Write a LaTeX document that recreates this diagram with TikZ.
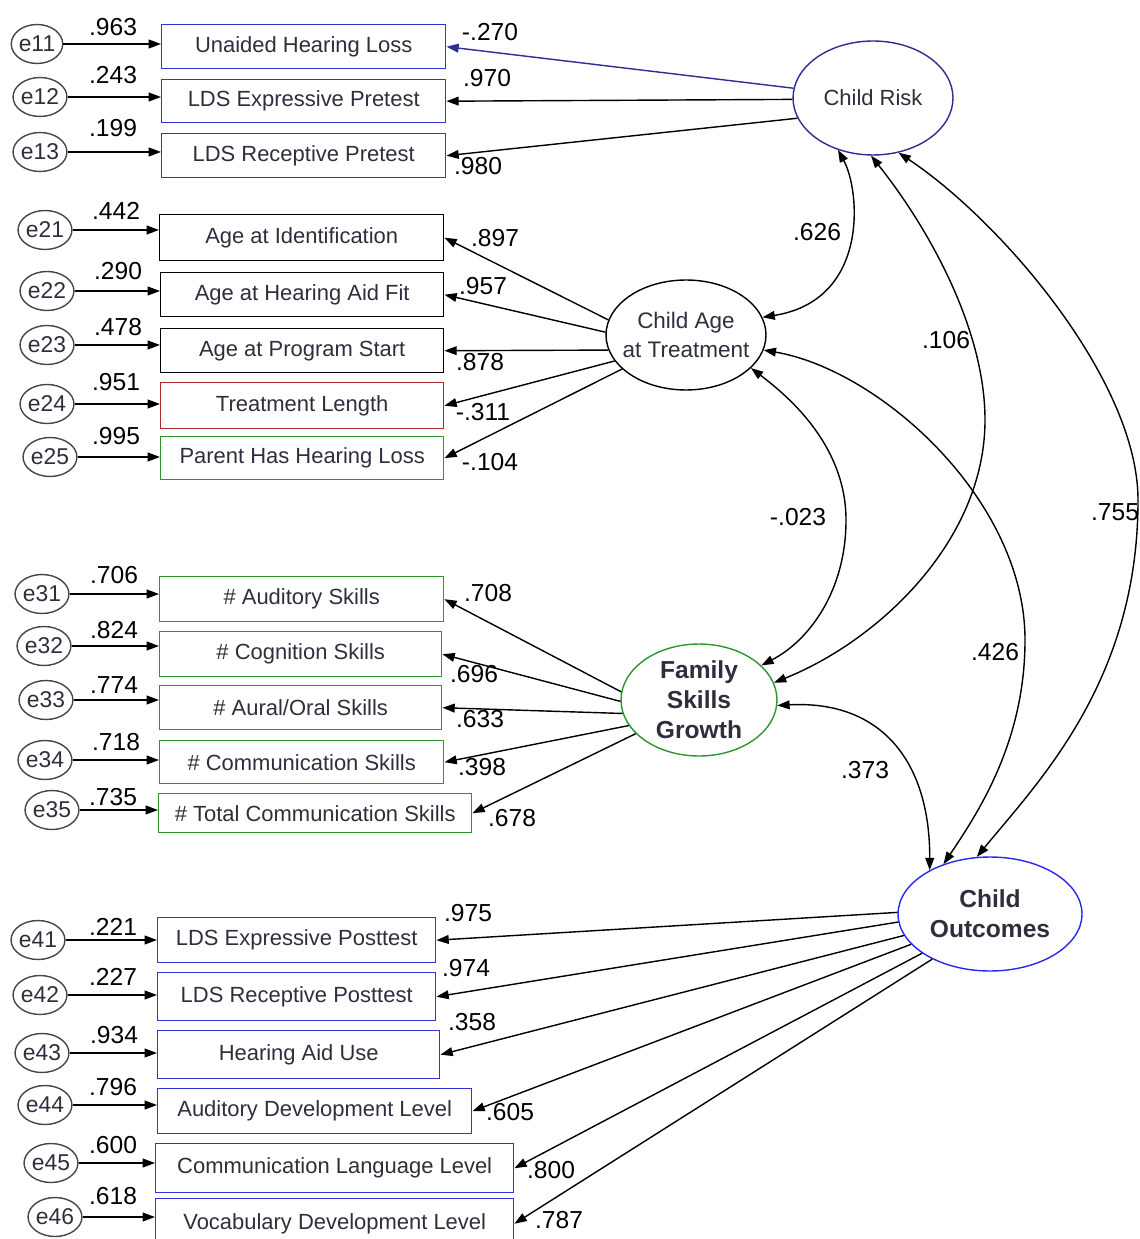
\documentclass[tikz,border=0pt]{standalone}
\usepackage{fontspec}
\setmainfont{Liberation Sans}
\usetikzlibrary{shapes.geometric, arrows.meta, calc}

\definecolor{obsblue}{RGB}{50,50,215}
\definecolor{riskblue}{RGB}{45,45,150}
\definecolor{outblue}{RGB}{40,40,240}
\definecolor{trtred}{RGB}{170,45,45}
\definecolor{famgreen}{RGB}{45,150,45}
\definecolor{errgray}{RGB}{70,70,70}
\definecolor{txtgray}{RGB}{50,45,60}

\begin{document}
\begin{tikzpicture}[x=0.02cm, y=-0.02cm, line width=0.8pt,
    >={Triangle[length=7pt,width=5pt]},
    obs/.style={draw=#1, rectangle, inner sep=0pt, anchor=north west, text=txtgray, font=\fontsize{12.5}{14}\selectfont},
    obs/.default=black,
    boxw/.style={minimum width=#1*0.02cm},
    boxh/.style={minimum height=#1*0.02cm},
    err/.style={draw=errgray, ellipse, minimum width=1.02cm, minimum height=0.78cm, inner sep=0pt, text=txtgray, font=\fontsize{13}{15}\selectfont},
    lat/.style={draw=#1, ellipse, inner sep=-6pt, align=center, text=txtgray},
    coef/.style={inner sep=0pt, font=\fontsize{14}{16}\selectfont}]

    \useasboundingbox (0,0) rectangle (1139,1239);

    % Child Risk indicators
    \node[obs=obsblue, boxw=284, boxh=44] (uhl)   at (161,24)  {Unaided Hearing Loss};
    \node[obs=obsblue, boxw=284, boxh=43] (ldsep) at (161,79)  {LDS Expressive Pretest};
    \node[obs=obsblue, boxw=284, boxh=44] (ldsrp) at (161,133) {LDS Receptive Pretest};

    % Child Age at Treatment indicators
    \node[obs, boxw=284, boxh=46] (aid)  at (159,214) {Age at Identification};
    \node[obs, boxw=283, boxh=44] (ahaf) at (160,272) {Age at Hearing Aid Fit};
    \node[obs, boxw=283, boxh=44] (aps)  at (160,328) {Age at Program Start};
    \node[obs=trtred, boxw=283, boxh=46]   (tl)   at (160,382) {Treatment Length};
    \node[obs=famgreen, boxw=283, boxh=43] (phhl) at (160,436) {Parent Has Hearing Loss};

    % Family Skills Growth indicators
    \node[obs=famgreen, boxw=284, boxh=45] (aud) at (159,576) {\# Auditory Skills};
    \node[obs=famgreen, boxw=282, boxh=45] (cog) at (159,631) {\# Cognition Skills};
    \node[obs=famgreen, boxw=282, boxh=44] (aur) at (159,685) {\# Aural/Oral Skills};
    \node[obs=famgreen, boxw=284, boxh=43] (com) at (159,740) {\# Communication Skills};
    \node[obs=famgreen, boxw=313, boxh=39] (tot) at (158,793) {\# Total Communication Skills};

    % Child Outcomes indicators
    \node[obs=obsblue, boxw=278, boxh=45] (ldsept) at (157,917)  {LDS Expressive Posttest};
    \node[obs=obsblue, boxw=278, boxh=48] (ldsrpt) at (157,972)  {LDS Receptive Posttest};
    \node[obs=obsblue, boxw=282, boxh=48] (hau)    at (157,1030) {Hearing Aid Use};
    \node[obs=obsblue, boxw=314, boxh=45] (adl)    at (157,1088) {Auditory Development Level};
    \node[obs=obsblue, boxw=358, boxh=49] (cll)    at (155,1143) {Communication Language Level};
    \node[obs=obsblue, boxw=358, boxh=50] (vdl)    at (155,1198) {Vocabulary Development Level};

    % Latent variables
    \node[lat=riskblue, minimum width=3.2cm, minimum height=2.28cm, font=\fontsize{12.5}{15}\selectfont] (cr) at (873,98) {Child Risk};
    \node[lat=black, minimum width=3.2cm, minimum height=2.2cm, font=\fontsize{12.8}{16}\selectfont] (ca) at (686,335) {Child Age\\at Treatment};
    \node[lat=famgreen, minimum width=3.12cm, minimum height=2.24cm, font=\bfseries\fontsize{14}{17}\selectfont] (fsg) at (699,700) {Family\\Skills\\Growth};
    \node[lat=outblue, minimum width=3.68cm, minimum height=2.28cm, font=\bfseries\fontsize{14}{17}\selectfont] (co) at (990,914) {Child\\Outcomes};

    % Error terms with their arrows and values
    \foreach \e/\ex/\ey/\b/\v/\vx/\vy in {
        e11/37/44/uhl/.963/113/27, e12/40/97/ldsep/.243/113/75, e13/40/152/ldsrp/.199/113/128,
        e21/45/230/aid/.442/116/211, e22/47/291/ahaf/.290/118/271, e23/47/345/aps/.478/118/327,
        e24/47/404/tl/.951/116/382, e25/50/457/phhl/.995/116/436,
        e31/42/594/aud/.706/114/575, e32/44/646/cog/.824/114/630, e33/46/700/aur/.774/114/685,
        e34/45/760/com/.718/116/742, e35/52/810/tot/.735/113/797,
        e41/38/940/ldsept/.221/113/927, e42/40/995/ldsrpt/.227/113/977, e43/42/1053/hau/.934/114/1035,
        e44/45/1105/adl/.796/113/1087, e45/51/1163/cll/.600/113/1145, e46/55/1217/vdl/.618/113/1196} {
        \node[err] (\e) at (\ex,\ey) {\e};
        \draw[->] (\e.east) -- (\e.east -| \b.west);
        \node[coef] (v\e) at (\vx,\vy) {\v};
    }

    % Factor loadings
    \foreach \l/\a/\b/\c/\v/\vx/\vy in {
        cr/173/uhl/riskblue/-.270/490/32, cr/181/ldsep/black/.970/487/78, cr/195/ldsrp/black/.980/478/166,
        ca/169/aid/black/.897/495/238, ca/178/ahaf/black/.957/483/286, ca/191/aps/black/.878/480/362,
        ca/200/tl/black/-.311/483/412, ca/208/phhl/black/-.104/490/462,
        fsg/174/aud/black/.708/488/593, fsg/181/cog/black/.696/474/674, fsg/190/aur/black/.633/480/719,
        fsg/200/com/black/.398/482/767, fsg/208/tot/black/.678/512/818,
        co/179/ldsept/black/.975/468/913, co/185/ldsrpt/black/.974/466/968, co/194/hau/black/.358/472/1022,
        co/201/adl/black/.605/510/1112, co/210/cll/black/.800/551/1170, co/218/vdl/black/.787/559/1220} {
        \draw[->, draw=\c, fill=\c] (\l.\a) -- (\b.east);
        \node[coef] (l\b) at (\vx,\vy) {\v};
    }

    % Covariances between latent variables
    \draw[<->] (cr.236) .. controls (860,190) and (870,300) .. (ca.13);
    \draw[<->] (cr.268) .. controls (930,230) and (985,330) .. (985,420)
                        .. controls (985,540) and (880,640) .. (fsg.13);
    \draw[<->] (cr.295) .. controls (1000,220) and (1138,380) .. (1138,500)
                        .. controls (1138,680) and (1040,780) .. (co.103);
    \draw[<->] (ca.333) .. controls (820,420) and (846,470) .. (846,520)
                        .. controls (846,590) and (810,640) .. (fsg.29);
    \draw[<->] (ca.349) .. controls (880,370) and (1025,500) .. (1025,640)
                        .. controls (1025,740) and (980,810) .. (co.133);
    \draw[<->] (fsg.-4) .. controls (880,700) and (930,760) .. (co.144);

    \node[coef] (c1) at (817,232)  {.626};
    \node[coef] (c2) at (946,340)  {.106};
    \node[coef] (c3) at (1115,512) {.755};
    \node[coef] (c4) at (798,517)  {-.023};
    \node[coef] (c5) at (995,652)  {.426};
    \node[coef] (c6) at (865,770)  {.373};

\end{tikzpicture}
\end{document}
